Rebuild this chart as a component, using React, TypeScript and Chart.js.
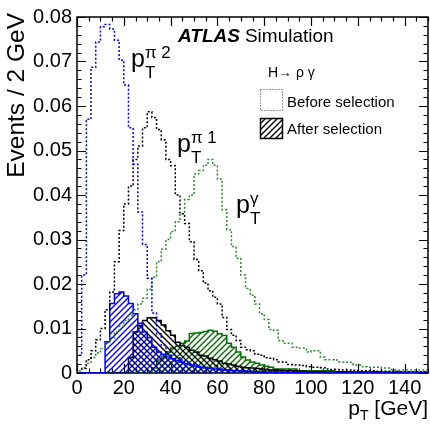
import React, { useEffect, useRef } from 'react';
import { Chart, registerables } from 'chart.js';

Chart.register(...registerables);

const FONT = '"Liberation Sans", Arial, Helvetica, sans-serif';

// Binning
const BIN_WIDTH = 2; // GeV
const X_MIN = 0;
const X_MAX = 150;
const Y_MIN = 0;
const Y_MAX = 0.08;

// Axis ticks
const xMajorTicks = [0, 20, 40, 60, 80, 100, 120, 140];
const xTickLabels = ['0', '20', '40', '60', '80', '100', '120', '140'];
const yMajorTicks = [0, 0.01, 0.02, 0.03, 0.04, 0.05, 0.06, 0.07, 0.08];
const yTickLabels = ['0', '0.01', '0.02', '0.03', '0.04', '0.05', '0.06', '0.07', '0.08'];
const X_MINOR_STEP = 5;
const Y_MINOR_STEP = 0.002;

// p_T^{pi 2} before selection (2 GeV bins from 0 to 150)
const pi2Before = [
  0.0, 0.004, 0.022, 0.057, 0.0687, 0.0744, 0.0778, 0.0783, 0.0773, 0.0748,
  0.0703, 0.0647, 0.0551, 0.0469, 0.0362, 0.0289, 0.0213, 0.0135, 0.0088, 0.0062,
  0.0048, 0.004, 0.0034, 0.0029, 0.0025, 0.0021, 0.0018, 0.0015, 0.0013, 0.0011,
  0.001, 0.0009, 0.0008, 0.0007, 0.0006, 0.0005, 0.0005, 0.0004, 0.0004, 0.0003,
  0.0003, 0.0002, 0.0002, 0.0002, 0.0002, 0.0001, 0.0001, 0.0001, 0.0001, 0.0001,
  0, 0, 0, 0, 0, 0, 0, 0, 0, 0,
  0, 0, 0, 0, 0, 0, 0, 0, 0, 0,
  0, 0, 0, 0, 0,
];

// p_T^{pi 2} after selection
const pi2After = [
  0, 0, 0, 0, 0, 0, 0, 0.007, 0.0156, 0.0178,
  0.0182, 0.0173, 0.0156, 0.0133, 0.0112, 0.0092, 0.008, 0.0058, 0.0047, 0.0042,
  0.0036, 0.0032, 0.0028, 0.0024, 0.0021, 0.0018, 0.0016, 0.0013, 0.0011, 0.001,
  0.0009, 0.0008, 0.0007, 0.0006, 0.0005, 0.0005, 0.0004, 0.0004, 0.0003, 0.0003,
  0.0002, 0.0002, 0.0002, 0.0002, 0.0002, 0.0001, 0.0001, 0.0001, 0.0001, 0.0001,
  0, 0, 0, 0, 0, 0, 0, 0, 0, 0,
  0, 0, 0, 0, 0, 0, 0, 0, 0, 0,
  0, 0, 0, 0, 0,
];

// p_T^{pi 1} before selection
const pi1Before = [
  0, 0, 0.001, 0.003, 0.005, 0.0075, 0.01, 0.0142, 0.0182, 0.025,
  0.032, 0.038, 0.042, 0.048, 0.051, 0.0551, 0.0587, 0.0574, 0.0547, 0.0524,
  0.048, 0.0466, 0.04, 0.0358, 0.0336, 0.0295, 0.0255, 0.023, 0.0202, 0.0185,
  0.017, 0.0155, 0.0125, 0.0098, 0.0085, 0.0073, 0.0058, 0.0052, 0.005, 0.0042,
  0.004, 0.0034, 0.0033, 0.003, 0.0025, 0.0024, 0.0019, 0.0018, 0.0018, 0.0017,
  0.0014, 0.0013, 0.0013, 0.0012, 0.0009, 0.0008, 0.0008, 0.0007, 0.0007, 0.0007,
  0.0006, 0.0005, 0.0005, 0.0005, 0.0005, 0.0004, 0.0004, 0.0004, 0.0004, 0.0004,
  0.0003, 0.0003, 0.0003, 0.0003, 0.0003,
];

// p_T^{pi 1} after selection
const pi1After = [
  0, 0, 0, 0, 0, 0, 0, 0, 0, 0,
  0, 0, 0.0035, 0.0092, 0.0107, 0.0118, 0.0124, 0.0124, 0.0118, 0.0108,
  0.0095, 0.0085, 0.0069, 0.0062, 0.0058, 0.0051, 0.0047, 0.004, 0.0038, 0.0033,
  0.003, 0.0027, 0.0022, 0.002, 0.0018, 0.0015, 0.0013, 0.0012, 0.0011, 0.001,
  0.0009, 0.0008, 0.0007, 0.0007, 0.0006, 0.0005, 0.0005, 0.0005, 0.0004, 0.0004,
  0.0003, 0.0003, 0.0003, 0.0003, 0.0002, 0.0002, 0.0002, 0.0002, 0.0002, 0.0002,
  0.0001, 0.0001, 0.0001, 0.0001, 0.0001, 0.0001, 0.0001, 0.0001, 0.0001, 0.0001,
  0, 0, 0, 0, 0,
];

// p_T^{gamma} before selection
const gammaBefore = [
  0, 0.0005, 0.0012, 0.0022, 0.0035, 0.0045, 0.0055, 0.0068, 0.008, 0.0092,
  0.0105, 0.0118, 0.013, 0.0142, 0.0155, 0.0168, 0.0188, 0.0215, 0.025, 0.0278,
  0.03, 0.0318, 0.034, 0.0358, 0.039, 0.04, 0.0447, 0.0455, 0.0467, 0.048,
  0.0467, 0.0436, 0.0367, 0.0322, 0.0284, 0.0258, 0.022, 0.019, 0.0175, 0.0155,
  0.0133, 0.012, 0.0098, 0.0096, 0.0073, 0.0067, 0.0067, 0.0058, 0.0056, 0.0056,
  0.0047, 0.005, 0.005, 0.0036, 0.003, 0.003, 0.0029, 0.0025, 0.0024, 0.0024,
  0.0018, 0.0018, 0.0014, 0.0013, 0.0013, 0.0013, 0.0011, 0.0011, 0.0008, 0.0007,
  0.0007, 0.0007, 0.0007, 0.0007, 0.0007,
];

// p_T^{gamma} after selection
const gammaAfter = [
  0, 0, 0, 0, 0, 0, 0, 0, 0, 0,
  0, 0, 0, 0, 0, 0, 0, 0.0011, 0.0029, 0.0036,
  0.0047, 0.0056, 0.006, 0.0067, 0.0072, 0.0089, 0.009, 0.0091, 0.0093, 0.0096,
  0.0094, 0.0088, 0.0084, 0.0067, 0.0058, 0.0047, 0.0036, 0.0029, 0.0025, 0.0022,
  0.0018, 0.0015, 0.0013, 0.0009, 0.0009, 0.0009, 0.0009, 0.0009, 0.0005, 0.0005,
  0.0005, 0.0005, 0.0005, 0.0005, 0.0005, 0.0005, 0.0003, 0.0003, 0.0003, 0.0003,
  0.0003, 0.0003, 0.0003, 0.0003, 0.0003, 0.0003, 0.0002, 0.0002, 0.0002, 0.0002,
  0.0002, 0.0002, 0.0002, 0.0002, 0.0002,
];

const BLUE = '#0000ff';
const BLACK = '#000000';
const GREEN_DOT = '#2a8a2a';
const GREEN = '#007000';

function histPoints(values: number[]) {
  const pts = values.map((v, i) => ({ x: X_MIN + i * BIN_WIDTH, y: v }));
  pts.push({ x: X_MIN + values.length * BIN_WIDTH, y: values[values.length - 1] });
  return pts;
}

// diagonal hatch tile
function makeHatch(ctx: CanvasRenderingContext2D, color: string, dir: '/' | '\\') {
  const s = 6;
  const c = document.createElement('canvas');
  c.width = s;
  c.height = s;
  const g = c.getContext('2d')!;
  g.strokeStyle = color;
  g.lineWidth = 1.4;
  g.lineCap = 'square';
  g.beginPath();
  for (let k = -1; k <= 1; k++) {
    if (dir === '/') {
      g.moveTo(k * s - 1, s + 1);
      g.lineTo(k * s + s + 1, -1);
    } else {
      g.moveTo(k * s - 1, -1);
      g.lineTo(k * s + s + 1, s + 1);
    }
  }
  g.stroke();
  return ctx.createPattern(c, 'repeat')!;
}

function drawPT(ctx: CanvasRenderingContext2D, x: number, y: number, sup: string, size: number) {
  ctx.font = `${size}px ${FONT}`;
  ctx.fillText('p', x, y);
  const w = ctx.measureText('p').width;
  const small = Math.round(size * 0.68);
  ctx.font = `${small}px ${FONT}`;
  ctx.fillText('T', x + w, y + size * 0.42);
  if (sup) ctx.fillText(sup, x + w, y - size * 0.36);
}

const framePlugin = {
  id: 'atlasFrame',
  beforeDatasetsDraw(chart: any) {
    const { ctx, chartArea } = chart;
    const { left, right, top, bottom } = chartArea;
    const xs = chart.scales.x;
    const ys = chart.scales.y;
    ctx.save();
    ctx.strokeStyle = '#000';
    ctx.lineWidth = 1.2;
    ctx.beginPath();
    for (let v = X_MIN; v <= X_MAX + 1e-9; v += X_MINOR_STEP) {
      const px = Math.round(xs.getPixelForValue(v)) + 0.5;
      const len = xMajorTicks.includes(v) ? 9 : 4.5;
      ctx.moveTo(px, bottom); ctx.lineTo(px, bottom - len);
      ctx.moveTo(px, top); ctx.lineTo(px, top + len);
    }
    const nY = Math.round((Y_MAX - Y_MIN) / Y_MINOR_STEP);
    for (let i = 0; i <= nY; i++) {
      const v = Y_MIN + i * Y_MINOR_STEP;
      const py = Math.round(ys.getPixelForValue(v)) + 0.5;
      const len = i % 5 === 0 ? 9 : 4.5;
      ctx.moveTo(left, py); ctx.lineTo(left + len, py);
      ctx.moveTo(right, py); ctx.lineTo(right - len, py);
    }
    ctx.stroke();
    ctx.lineWidth = 1.5;
    ctx.strokeRect(left, top, right - left, bottom - top);
    ctx.restore();
  },
  afterDraw(chart: any) {
    const { ctx, chartArea } = chart;
    const { right } = chartArea;
    ctx.save();
    ctx.fillStyle = '#000';
    ctx.textAlign = 'left';
    ctx.textBaseline = 'alphabetic';

    // ATLAS Simulation
    ctx.font = `italic bold 19px ${FONT}`;
    ctx.fillText('ATLAS', 178, 42);
    const aw = ctx.measureText('ATLAS').width;
    ctx.font = `19px ${FONT}`;
    ctx.fillText('Simulation', 178 + aw + 5, 42);

    // Legend
    ctx.font = `14px ${FONT}`;
    ctx.fillText('H\u2192 \u03c1 \u03b3', 268, 77);
    ctx.font = `15px ${FONT}`;
    ctx.fillText('Before selection', 287, 107);
    ctx.fillText('After selection', 287, 134);
    ctx.save();
    ctx.strokeStyle = '#333';
    ctx.lineWidth = 1;
    ctx.setLineDash([1, 2]);
    ctx.strokeRect(260.5, 89.5, 22, 21);
    ctx.restore();
    ctx.save();
    ctx.fillStyle = (chart as any).$legendHatch;
    ctx.fillRect(260, 118, 22, 20);
    ctx.strokeStyle = '#000';
    ctx.lineWidth = 1.5;
    ctx.strokeRect(260.5, 118.5, 22, 20);
    ctx.restore();

    // curve labels
    drawPT(ctx, 131, 67, '\u03c0 2', 25);
    drawPT(ctx, 177, 152, '\u03c0 1', 25);
    drawPT(ctx, 236, 213, '\u03b3', 25);

    // x-axis title  p_T [GeV]
    const pSize = 21;
    ctx.font = `${pSize}px ${FONT}`;
    const pw = ctx.measureText('p').width;
    const gw = ctx.measureText(' [GeV]').width;
    ctx.font = `14px ${FONT}`;
    const tw = ctx.measureText('T').width;
    const x0 = right - (pw + tw + gw);
    ctx.font = `${pSize}px ${FONT}`;
    ctx.fillText('p', x0, 415);
    ctx.fillText(' [GeV]', x0 + pw + tw, 415);
    ctx.font = `14px ${FONT}`;
    ctx.fillText('T', x0 + pw, 420);

    // y-axis title
    ctx.save();
    ctx.translate(24, 13);
    ctx.rotate(-Math.PI / 2);
    ctx.textAlign = 'right';
    ctx.font = `24.5px ${FONT}`;
    ctx.fillText('Events / 2 GeV', 0, 0);
    ctx.restore();

    ctx.restore();
  },
};

export default function App() {
  const canvasRef = useRef<HTMLCanvasElement>(null);

  useEffect(() => {
    const canvas = canvasRef.current!;
    const ctx = canvas.getContext('2d')!;
    const hatchBlue = makeHatch(ctx, BLUE, '/');
    const hatchBlack = makeHatch(ctx, BLACK, '\\');
    const hatchGreen = makeHatch(ctx, GREEN, '/');
    const hatchLegend = makeHatch(ctx, BLACK, '/');

    const before = (values: number[], color: string) => ({
      data: histPoints(values),
      borderColor: color,
      borderWidth: 1.5,
      borderDash: [2, 2],
      stepped: 'after' as const,
      pointRadius: 0,
      fill: false,
    });
    const after = (values: number[], color: string, pattern: CanvasPattern) => ({
      data: histPoints(values),
      borderColor: color,
      borderWidth: 1.5,
      stepped: 'after' as const,
      pointRadius: 0,
      fill: { target: 'origin', above: pattern, below: pattern },
      backgroundColor: pattern,
    });

    const chart = new Chart(canvas, {
      type: 'line',
      data: {
        datasets: [
          before(pi2Before, BLUE),
          before(pi1Before, BLACK),
          before(gammaBefore, GREEN_DOT),
          after(pi2After, BLUE, hatchBlue),
          after(pi1After, BLACK, hatchBlack),
          after(gammaAfter, GREEN, hatchGreen),
        ] as any,
      },
      options: {
        animation: false,
        responsive: false,
        devicePixelRatio: 1,
        layout: { padding: { top: 13, right: 2, left: 0, bottom: 0 } },
        plugins: { legend: { display: false }, tooltip: { enabled: false } },
        scales: {
          x: {
            type: 'linear',
            min: X_MIN,
            max: X_MAX,
            grid: { display: false, drawTicks: false },
            border: { display: false },
            afterBuildTicks: (scale: any) => {
              scale.ticks = xMajorTicks.map((v) => ({ value: v }));
            },
            afterFit: (scale: any) => {
              scale.height = 52;
            },
            ticks: {
              autoSkip: false,
              maxRotation: 0,
              padding: 3,
              color: '#000',
              font: { family: FONT, size: 20 },
              callback: (_v: any, i: number) => xTickLabels[i],
            },
          },
          y: {
            type: 'linear',
            min: Y_MIN,
            max: Y_MAX,
            grid: { display: false, drawTicks: false },
            border: { display: false },
            afterBuildTicks: (scale: any) => {
              scale.ticks = yMajorTicks.map((v) => ({ value: v }));
            },
            afterFit: (scale: any) => {
              scale.width = 77;
            },
            ticks: {
              autoSkip: false,
              padding: 5,
              color: '#000',
              font: { family: FONT, size: 20 },
              callback: (_v: any, i: number) => yTickLabels[i],
            },
          },
        },
      } as any,
      plugins: [framePlugin],
    });
    (chart as any).$legendHatch = hatchLegend;
    chart.draw();

    return () => chart.destroy();
  }, []);

  return (
    <div style={{ position: 'absolute', left: 0, top: 0, width: 430, height: 425, background: '#fff' }}>
      <canvas ref={canvasRef} width={430} height={425} style={{ display: 'block' }} />
    </div>
  );
}
